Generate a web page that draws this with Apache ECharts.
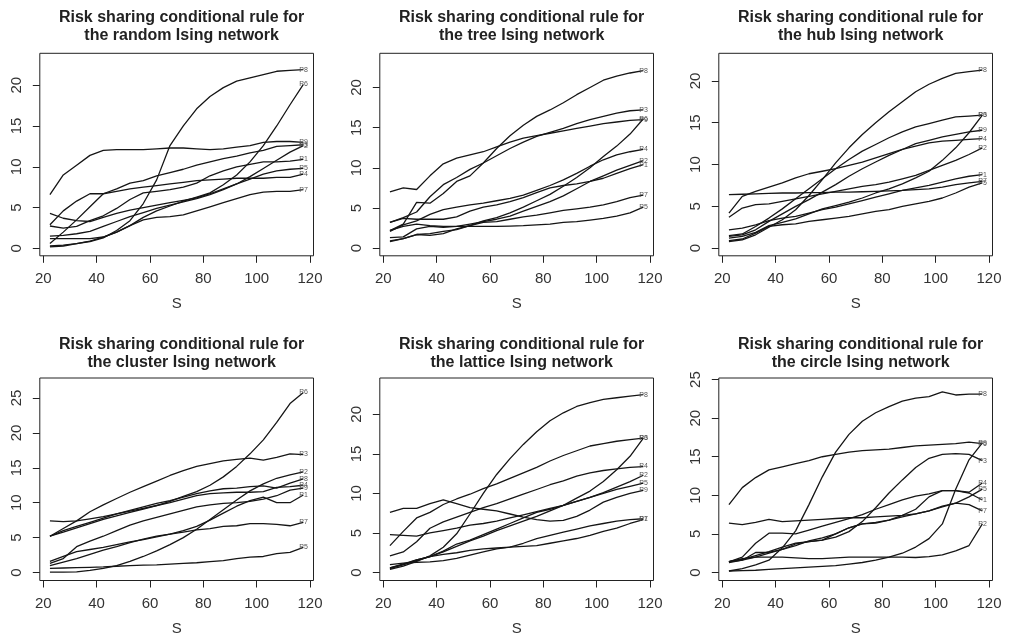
<!DOCTYPE html>
<html><head><meta charset="utf-8">
<script src="https://cdn.jsdelivr.net/npm/echarts@6/dist/echarts.min.js"></script>
<style>html,body{margin:0;padding:0;background:#fff}#c{width:1011px;height:638px}</style>
</head><body><div id="c"></div>
<script>
// ---------- data ----------
const xValues = [22.5,27.5,32.5,37.5,42.5,47.5,52.5,57.5,62.5,67.5,72.5,77.5,82.5,87.5,92.5,97.5,102.5,107.5,112.5,117.5];
const seriesNames = ['P1','P2','P3','P4','P5','P6','P7','P8','P9'];
const xTicks = [20,40,60,80,100,120];
const yTicksA = [0,5,10,15,20];
const yTicksB = [0,5,10,15,20,25];
const networkNames = ['random','tree','hub','cluster','lattice','circle'];

// rows: P1..P9
const randomNet = [
  [2.75,2.5,2.7,3.4,4.0,4.9,6.0,6.8,7.0,7.2,7.5,8.0,8.9,9.5,10.0,10.3,10.6,10.6,10.7,10.9],
  [4.3,3.7,3.4,3.3,3.8,4.3,4.7,5.0,5.3,5.6,5.9,6.2,6.7,7.3,7.9,8.8,9.8,10.8,11.8,12.6],
  [0.6,2.0,3.5,5.1,6.7,7.3,8.0,8.3,8.9,9.3,9.7,10.2,10.6,11.0,11.3,11.7,12.0,12.5,12.6,12.7],
  [2.9,4.6,5.8,6.7,6.7,7.0,7.3,7.5,7.7,7.9,8.1,8.3,8.4,8.5,8.6,8.6,8.6,8.7,8.7,9.1],
  [1.5,1.6,1.8,2.1,2.7,3.3,3.9,4.4,4.9,5.3,5.7,6.1,6.6,7.2,7.9,8.5,9.1,9.5,9.7,9.8],
  [0.3,0.4,0.6,0.9,1.4,2.0,2.8,3.8,4.6,5.2,5.8,6.3,6.8,7.8,9.0,10.6,12.6,15.0,17.6,20.1],
  [1.2,1.2,1.2,1.2,1.4,2.0,2.8,3.5,3.8,3.9,4.1,4.6,5.1,5.6,6.1,6.6,6.9,7.0,7.0,7.2],
  [0.2,0.3,0.6,0.85,1.3,2.2,3.4,5.5,8.4,12.6,15.0,17.1,18.6,19.7,20.5,20.9,21.3,21.7,21.8,21.9],
  [6.6,9.0,10.2,11.4,12.0,12.1,12.1,12.1,12.2,12.3,12.3,12.2,12.1,12.2,12.4,12.6,13.0,13.1,13.1,13.0]
];
const treeNet = [
  [3.2,3.7,3.6,3.6,3.6,3.9,4.6,5.1,5.4,5.8,6.3,6.9,7.5,7.8,8.0,8.3,8.7,9.3,9.9,10.4],
  [1.3,1.4,2.4,2.7,2.6,2.7,3.0,3.3,3.6,4.0,4.6,5.2,5.8,6.5,7.4,8.3,9.0,9.7,10.3,10.9],
  [3.2,3.8,4.5,6.4,7.9,8.8,9.8,10.6,11.5,12.4,13.2,13.9,14.4,14.9,15.5,16.0,16.4,16.8,17.1,17.2],
  [2.1,2.9,3.4,4.2,4.8,5.1,5.4,5.6,5.9,6.2,6.6,7.2,7.8,8.5,9.3,10.2,11.0,11.6,12.0,12.3],
  [2.2,2.7,3.0,2.8,2.7,2.7,2.7,2.7,2.7,2.75,2.8,2.9,3.0,3.2,3.3,3.5,3.7,4.0,4.4,5.1],
  [0.8,1.2,1.7,1.6,1.8,2.4,2.8,3.4,3.8,4.4,5.1,5.9,6.7,7.7,8.8,10.0,11.4,12.7,14.2,16.1],
  [0.9,1.2,1.7,1.8,2.1,2.3,2.8,3.2,3.3,3.6,3.9,4.1,4.4,4.7,4.9,5.1,5.4,5.8,6.3,6.6],
  [2.2,3.0,5.7,5.6,6.8,8.3,9.0,10.6,12.4,14.0,15.3,16.4,17.2,18.1,19.1,20.0,20.9,21.4,21.8,22.1],
  [7.0,7.5,7.3,9.0,10.5,11.2,11.6,12.0,12.6,13.2,13.7,14.0,14.3,14.6,14.9,15.2,15.5,15.7,15.9,16.0]
];
const hubNet = [
  [2.2,2.4,2.8,3.3,3.6,3.8,4.2,4.6,4.9,5.3,5.7,6.1,6.5,6.9,7.2,7.5,7.9,8.3,8.6,8.8],
  [3.7,4.8,5.2,5.3,5.6,5.9,6.2,6.5,6.8,7.1,7.4,7.6,7.9,8.3,8.7,9.3,9.9,10.5,11.2,12.0],
  [1.2,1.4,1.9,2.7,3.1,3.5,4.1,4.7,5.1,5.5,6.0,6.6,7.1,7.7,8.4,9.2,10.5,12.0,13.8,15.9],
  [4.2,6.2,6.8,7.3,7.8,8.4,8.9,9.2,9.5,9.9,10.3,10.8,11.3,11.8,12.2,12.6,12.8,12.9,13.0,13.1],
  [0.9,1.1,1.8,2.6,2.8,2.9,3.2,3.4,3.6,3.8,4.1,4.4,4.6,5.0,5.3,5.6,6.0,6.6,7.3,7.8],
  [1.5,1.7,2.6,3.6,4.7,5.9,7.1,8.3,9.5,10.6,11.6,12.4,13.2,13.9,14.5,14.9,15.3,15.7,15.8,15.9],
  [6.4,6.45,6.5,6.55,6.6,6.6,6.65,6.65,6.7,6.7,6.75,6.8,6.85,6.9,7.0,7.1,7.3,7.6,7.8,8.0],
  [0.8,1.0,1.6,2.5,3.4,4.6,6.3,8.2,10.2,12.0,13.6,15.0,16.3,17.5,18.7,19.6,20.3,20.9,21.1,21.3],
  [1.4,1.6,2.2,3.2,4.1,5.0,5.8,6.7,7.6,8.6,9.5,10.3,11.1,11.8,12.5,12.9,13.3,13.6,13.9,14.1]
];
const clusterNet = [
  [1.6,2.3,3.0,3.3,3.6,4.0,4.4,4.7,5.1,5.5,6.0,6.6,7.5,8.5,9.5,10.3,10.8,10.0,10.0,11.1],
  [0.05,0.05,0.1,0.3,0.6,1.0,1.6,2.3,3.1,4.0,5.0,6.2,7.6,9.0,10.4,11.7,12.7,13.5,14.0,14.4],
  [5.2,6.3,7.4,8.7,9.7,10.6,11.5,12.3,13.1,13.9,14.6,15.2,15.6,16.0,16.2,16.4,16.1,16.5,17.0,16.9],
  [7.4,7.3,7.4,7.7,8.0,8.4,8.8,9.2,9.6,10.0,10.5,11.0,11.3,11.4,11.5,11.5,11.6,12.2,12.3,12.5],
  [0.6,0.65,0.7,0.75,0.8,0.9,1.0,1.05,1.1,1.2,1.3,1.4,1.55,1.7,2.0,2.2,2.3,2.7,2.9,3.6],
  [5.2,5.8,6.4,7.0,7.6,8.1,8.6,9.1,9.6,10.2,10.9,11.6,12.5,13.7,15.2,17.0,19.0,21.5,24.2,25.8],
  [1.0,1.5,2.0,2.6,3.2,3.7,4.3,4.8,5.2,5.5,5.8,6.1,6.3,6.6,6.7,7.0,7.0,6.9,6.7,7.2],
  [5.2,6.0,6.6,7.2,7.8,8.4,8.9,9.4,9.9,10.3,10.8,11.3,11.7,12.0,12.1,12.3,12.4,12.1,12.8,13.4],
  [1.3,2.0,3.7,4.5,5.2,6.0,6.8,7.4,7.9,8.4,8.9,9.4,9.7,9.9,10.0,10.2,10.5,11.0,11.8,12.1]
];
const latticeNet = [
  [1.0,1.2,1.3,1.35,1.5,1.8,2.2,2.6,3.0,3.2,3.3,3.4,3.7,4.0,4.3,4.7,5.2,5.6,6.2,6.7],
  [0.6,1.0,1.5,2.0,2.7,3.6,4.1,4.8,5.5,6.2,6.9,7.6,8.0,8.5,9.0,9.5,10.1,10.8,11.5,12.3],
  [3.4,5.2,6.9,7.6,8.6,9.3,9.9,10.6,11.2,11.9,12.6,13.3,14.1,14.8,15.4,16.0,16.3,16.6,16.8,17.0],
  [2.1,2.6,3.9,5.6,6.4,7.0,7.6,8.2,8.7,9.3,9.9,10.5,11.1,11.6,12.2,12.6,12.9,13.1,13.3,13.4],
  [4.8,4.7,4.6,5.0,5.3,5.6,6.0,6.2,6.5,6.9,7.3,7.7,8.1,8.5,9.0,9.5,10.0,10.5,10.9,11.3],
  [0.6,1.1,1.6,2.0,2.6,3.3,4.0,4.6,5.3,5.9,6.5,7.1,7.8,8.5,9.4,10.3,11.5,13.0,14.7,17.0],
  [0.5,1.0,1.6,2.0,2.3,2.5,2.8,3.0,3.1,3.2,3.7,4.3,4.7,5.1,5.5,5.9,6.2,6.5,6.7,6.8],
  [0.4,0.8,1.4,2.1,3.2,4.9,7.4,10.0,12.4,14.4,16.2,17.8,19.2,20.2,21.0,21.5,21.9,22.1,22.3,22.5],
  [7.6,8.1,8.1,8.7,9.2,8.7,8.2,8.0,7.8,7.4,7.0,6.7,6.5,6.6,7.1,7.9,8.9,9.5,10.0,10.4]
];
const circleNet = [
  [1.4,2.0,3.8,5.1,5.1,5.0,5.5,6.0,6.5,7.0,7.5,8.2,8.8,9.4,9.9,10.2,10.6,10.6,10.3,9.4],
  [1.4,1.8,2.0,2.0,2.0,1.9,1.8,1.8,1.9,2.0,2.0,2.0,2.0,2.0,1.95,2.05,2.3,2.8,3.5,6.3],
  [1.4,1.7,2.2,2.7,3.3,3.8,4.0,4.2,4.6,5.3,6.6,8.4,10.3,12.0,13.6,14.8,15.3,15.4,15.3,14.5],
  [1.4,1.6,2.6,2.6,3.0,3.5,4.1,4.5,5.0,5.8,6.3,6.4,6.8,7.4,8.2,9.8,10.6,10.6,10.4,11.6],
  [1.3,1.6,2.0,2.5,3.0,3.7,4.0,4.2,5.0,5.8,6.3,6.5,6.8,7.2,7.6,8.0,8.5,9.0,9.8,10.8],
  [8.8,11.0,12.3,13.3,13.7,14.1,14.5,15.0,15.3,15.6,15.8,15.9,16.0,16.2,16.4,16.5,16.6,16.7,16.9,16.7],
  [6.4,6.2,6.5,6.9,6.6,6.7,6.8,6.9,7.0,7.1,7.1,7.2,7.3,7.4,7.6,8.0,8.6,9.0,8.8,8.0],
  [0.2,0.5,1.0,1.6,3.2,5.4,8.8,12.4,15.6,17.9,19.6,20.7,21.5,22.2,22.6,22.8,23.4,23.0,23.1,23.1],
  [0.2,0.25,0.3,0.4,0.5,0.6,0.7,0.8,0.9,1.1,1.3,1.6,2.0,2.5,3.3,4.4,6.3,10.8,14.6,16.8]
];
const panelData = [randomNet, treeNet, hubNet, clusterNet, latticeNet, circleNet];
const panelYTicks = [yTicksA, yTicksA, yTicksA, yTicksB, yTicksA, yTicksB];

// ---------- layout ----------
const colLeft = [39.8, 379.8, 718.8];
const rowTop = [53.3, 378];
const boxW = 273.7, boxH = 202.5;
const xMin = 18.7, xMax = 121.3;
const yRange = [[-0.9,23.9],[-0.95,24.25],[-0.91,23.3],[-1.14,27.86],[-1.01,24.6],[-1.03,25.2]];
const titleTop = [4, 331];
const FONT = '"Liberation Sans", Arial, Helvetica, sans-serif';

const grid = [], xAxis = [], yAxis = [], series = [], title = [];
panelData.forEach((rows, i) => {
  const c = i % 3, r = Math.floor(i / 3);
  const left = colLeft[c], top = rowTop[r];
  grid.push({left, top, width: boxW, height: boxH, show: true, borderColor: '#222', borderWidth: 1, backgroundColor: 'transparent', containLabel: false});
  title.push({
    text: 'Risk sharing conditional rule for\nthe ' + networkNames[i] + ' Ising network',
    left: left + boxW / 2, top: titleTop[r], textAlign: 'center',
    textStyle: {fontFamily: FONT, fontSize: 16, fontWeight: 'bold', color: '#222', lineHeight: 18}
  });
  xAxis.push({
    type: 'value', gridIndex: i, min: xMin, max: xMax,
    axisLine: {show: false, onZero: false},
    axisTick: {show: true, customValues: xTicks, length: 7, lineStyle: {color: '#222', width: 1}},
    axisLabel: {customValues: xTicks, fontFamily: FONT, fontSize: 15, color: '#333', margin: 16},
    splitLine: {show: false},
    name: 'S', nameLocation: 'middle', nameGap: 41,
    nameTextStyle: {fontFamily: FONT, fontSize: 15, color: '#333'}
  });
  const yt = panelYTicks[i];
  yAxis.push({
    type: 'value', gridIndex: i, min: yRange[i][0], max: yRange[i][1],
    axisLine: {show: false, onZero: false},
    axisTick: {show: true, customValues: yt, length: 7, lineStyle: {color: '#222', width: 1}},
    axisLabel: {customValues: yt, fontFamily: FONT, fontSize: 15, color: '#333', rotate: 90, margin: 15},
    splitLine: {show: false}
  });
  rows.forEach((vals, k) => {
    series.push({
      type: 'line', name: seriesNames[k], xAxisIndex: i, yAxisIndex: i,
      data: xValues.map((x, j) => [x, vals[j]]),
      symbol: 'none', silent: true,
      lineStyle: {color: '#151515', width: 1.3},
      endLabel: {show: true, formatter: seriesNames[k], fontFamily: FONT, fontSize: 7, color: '#555', distance: 0, offset: [-4, 0]}
    });
  });
});

const chart = echarts.init(document.getElementById('c'), null, {renderer: 'canvas'});
chart.setOption({animation: false, backgroundColor: '#fff', textStyle: {fontFamily: FONT}, title, grid, xAxis, yAxis, series});
</script></body></html>
